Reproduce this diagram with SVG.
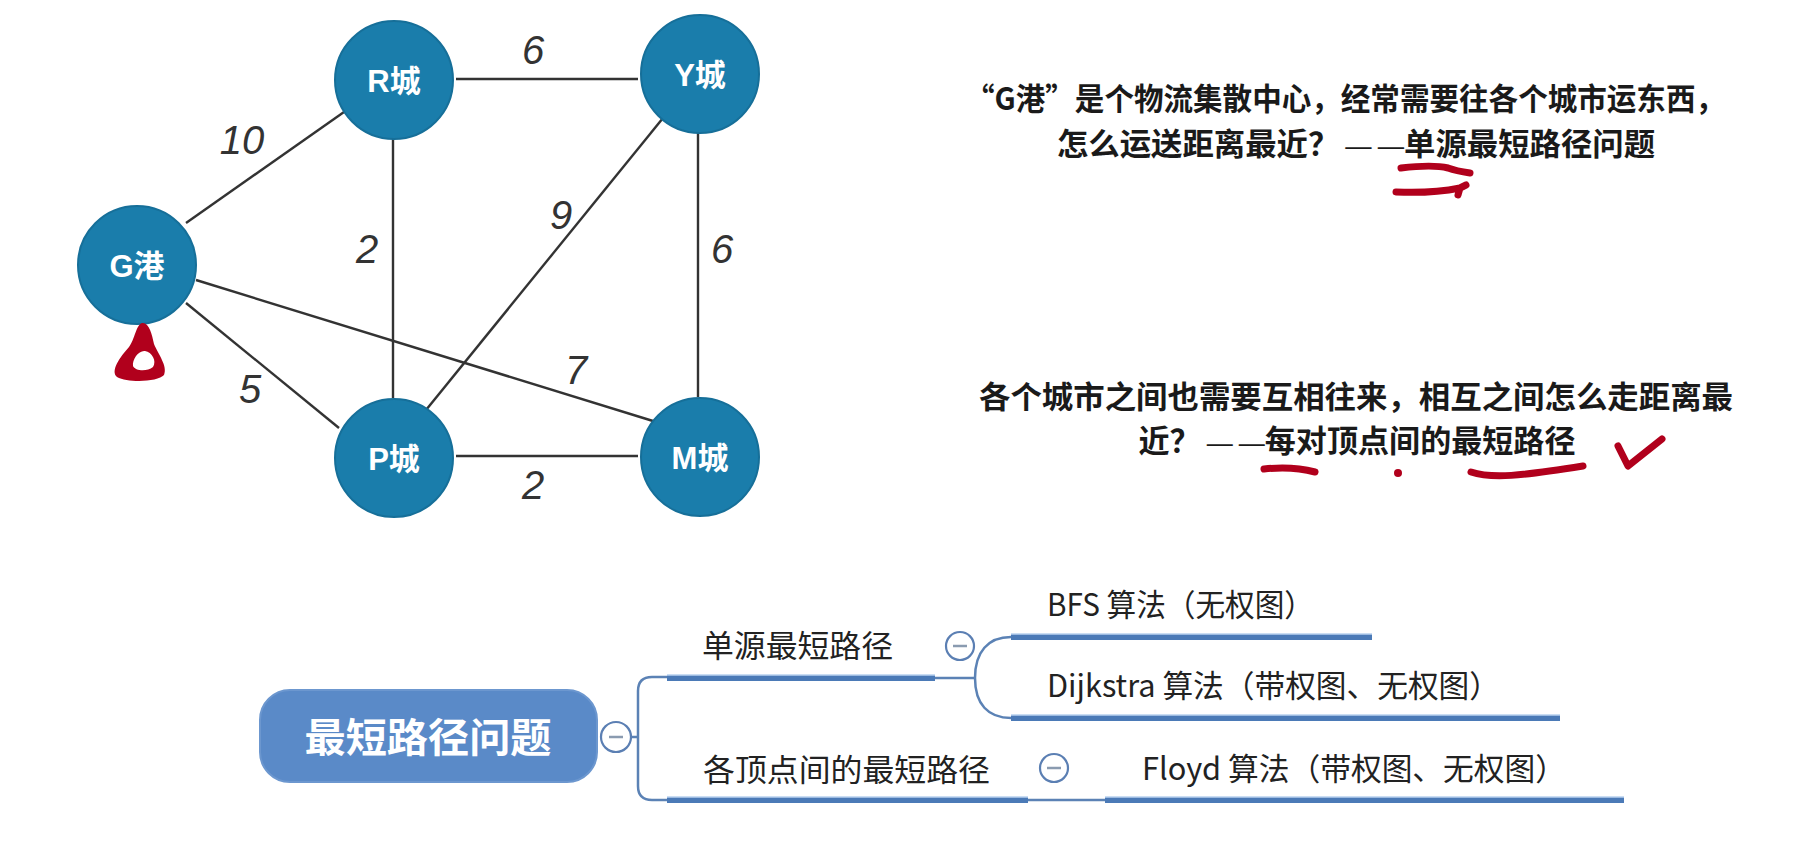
<svg xmlns="http://www.w3.org/2000/svg" width="1796" height="845" viewBox="0 0 1796 845">
<style>
.node circle{fill:#1a7dab;stroke:#166f99;stroke-width:2}
.node text{fill:#fff;font-family:"Liberation Sans","Noto Sans CJK SC",sans-serif;font-weight:bold;font-size:31px;text-anchor:middle}
.edge{stroke:#333;stroke-width:2.4;fill:none}
.w{fill:#333;font-family:"Liberation Sans",sans-serif;font-style:italic;font-size:40px;text-anchor:middle}
.desc{fill:#1a1a1a;font-family:"Noto Sans CJK SC",sans-serif;font-weight:bold;font-size:31px;text-anchor:middle}
.dash{font-family:"Liberation Sans",sans-serif;font-weight:normal;font-size:26px}
.mm{fill:#222;font-family:"Noto Sans CJK SC",sans-serif;font-size:31px}
.thin{stroke:#5b82b5;stroke-width:2.5;fill:none}
.bar{stroke:#4b7ab7;stroke-width:6;fill:none}
.hl{stroke:#b8d2ef;stroke-width:1.5;fill:none}
.tog circle{fill:#fff;stroke:#5b7fb3;stroke-width:2.2}
.tog line{stroke:#8a9bb0;stroke-width:2.5}
.red{stroke:#b1001c;stroke-width:7;fill:none;stroke-linecap:round;stroke-linejoin:round}
</style>

<rect x="0" y="0" width="1796" height="845" fill="#fff"/>

<!-- graph connectors -->
<g id="connectors">
  <line class="edge" x1="186" y1="223" x2="344" y2="112"/>
  <line class="edge" x1="456" y1="79" x2="638" y2="79"/>
  <line class="edge" x1="393" y1="137" x2="393" y2="398"/>
  <line class="edge" x1="663" y1="118" x2="426" y2="410"/>
  <line class="edge" x1="698" y1="132" x2="698" y2="397"/>
  <line class="edge" x1="196" y1="280" x2="653" y2="421"/>
  <line class="edge" x1="186" y1="303" x2="339" y2="428"/>
  <line class="edge" x1="456" y1="456" x2="638" y2="456"/>
  <text class="w" x="533" y="64">6</text>
  <text class="w" x="242" y="154">10</text>
  <text class="w" x="367" y="263">2</text>
  <text class="w" x="561" y="229">9</text>
  <text class="w" x="722" y="263">6</text>
  <text class="w" x="576" y="384">7</text>
  <text class="w" x="250" y="403">5</text>
  <text class="w" x="533" y="499">2</text>
</g>

<g id="node-R" class="node"><circle cx="394" cy="80" r="59"/><text x="394" y="92">R城</text></g>
<g id="node-Y" class="node"><circle cx="700" cy="74" r="59"/><text x="700" y="86">Y城</text></g>
<g id="node-G" class="node"><circle cx="137" cy="265" r="59"/><text x="137" y="277">G港</text></g>
<g id="node-P" class="node"><circle cx="394" cy="458" r="59"/><text x="394" y="470">P城</text></g>
<g id="node-M" class="node"><circle cx="700" cy="457" r="59"/><text x="700" y="469">M城</text></g>

<!-- description text -->
<g id="desc-1">
  <text class="desc" x="1345" y="110" textLength="760" lengthAdjust="spacingAndGlyphs">“G港”是个物流集散中心，经常需要往各个城市运东西，</text>
  <text class="desc" x="1356" y="155" textLength="598" lengthAdjust="spacingAndGlyphs">怎么运送距离最近？<tspan class="dash" dx="6">—</tspan><tspan class="dash" dx="6">—</tspan>单源最短路径问题</text>
</g>
<g id="desc-2">
  <text class="desc" x="1356" y="408" textLength="754" lengthAdjust="spacingAndGlyphs">各个城市之间也需要互相往来，相互之间怎么走距离最</text>
  <text class="desc" x="1357" y="452" textLength="437" lengthAdjust="spacingAndGlyphs">近？<tspan class="dash" dx="6">—</tspan><tspan class="dash" dx="6">—</tspan>每对顶点间的最短路径</text>
</g>

<!-- red annotations -->
<g id="annotations">
  <path fill="#b1001c" fill-rule="evenodd" d="M142,323 C149,322 152,334 154,344 C158,354 168,366 164,375 C158,382 128,383 117,377 C110,371 120,357 129,347 C135,339 136,325 142,323 Z M145,351 C152,352 157,361 153,367 C147,372 135,371 133,366 C132,359 139,350 145,351 Z"/>
  <path class="red" d="M1401,168 C1418,166 1436,165 1448,168 C1456,171 1463,172 1470,173" stroke-width="6"/>
  <path class="red" d="M1396,192 C1418,193 1440,192 1460,188 L1466,185 M1460,188 L1458,195" stroke-width="6"/>
  <path class="red" d="M1264,469 C1282,467 1300,468 1315,472"/>
  <circle cx="1398" cy="473" r="4" fill="#b1001c"/>
  <path class="red" d="M1471,472 C1492,479 1520,476 1583,466"/>
  <path class="red" d="M1618,446 L1628,466 L1662,439" stroke-width="8"/>
</g>

<!-- mind map -->
<g id="mm-connectors">
  <path class="thin" d="M631,737 H638 M667,677 H652 Q638,677 638,691 V786 Q638,800 652,800 H667"/>
  <path class="thin" d="M935,678 H975 M975,678 C975,652 988,637 1011,637 M975,678 C975,704 988,718 1011,718"/>
  <path class="thin" d="M1028,800 H1105"/>
  <line class="bar" x1="667" y1="678" x2="935" y2="678"/><line class="hl" x1="667" y1="675" x2="935" y2="675"/>
  <line class="bar" x1="667" y1="800" x2="1028" y2="800"/><line class="hl" x1="667" y1="797" x2="1028" y2="797"/>
  <line class="bar" x1="1011" y1="637" x2="1372" y2="637"/><line class="hl" x1="1011" y1="634" x2="1372" y2="634"/>
  <line class="bar" x1="1011" y1="718" x2="1560" y2="718"/><line class="hl" x1="1011" y1="715" x2="1560" y2="715"/>
  <line class="bar" x1="1105" y1="800" x2="1624" y2="800"/><line class="hl" x1="1105" y1="797" x2="1624" y2="797"/>
</g>

<g id="mm-root">
  <rect x="260" y="690" width="337" height="92" rx="30" fill="#5a8ac8" stroke="#6c97cf" stroke-width="2"/>
  <text x="428" y="752" fill="#fff" font-family="'Noto Sans CJK SC',sans-serif" font-weight="bold" font-size="40" text-anchor="middle" textLength="247" lengthAdjust="spacingAndGlyphs">最短路径问题</text>
</g>
<g id="tog-root" class="tog"><circle cx="616" cy="737" r="15"/><line x1="609" y1="737" x2="623" y2="737"/></g>

<g id="mm-single">
  <text class="mm" x="702" y="657" textLength="191" lengthAdjust="spacingAndGlyphs">单源最短路径</text>
</g>
<g id="tog-single" class="tog"><circle cx="960" cy="646" r="14"/><line x1="953" y1="646" x2="967" y2="646"/></g>

<g id="mm-bfs">
  <text class="mm" x="1047" y="616" textLength="267" lengthAdjust="spacingAndGlyphs">BFS 算法（无权图）</text>
</g>
<g id="mm-dijkstra">
  <text class="mm" x="1047" y="697" textLength="453" lengthAdjust="spacingAndGlyphs">Dijkstra 算法（带权图、无权图）</text>
</g>

<g id="mm-all">
  <text class="mm" x="703" y="781" textLength="287" lengthAdjust="spacingAndGlyphs">各顶点间的最短路径</text>
</g>
<g id="tog-all" class="tog"><circle cx="1054" cy="768" r="14"/><line x1="1047" y1="768" x2="1061" y2="768"/></g>

<g id="mm-floyd">
  <text class="mm" x="1142" y="780" textLength="424" lengthAdjust="spacingAndGlyphs">Floyd 算法（带权图、无权图）</text>
</g>
</svg>
